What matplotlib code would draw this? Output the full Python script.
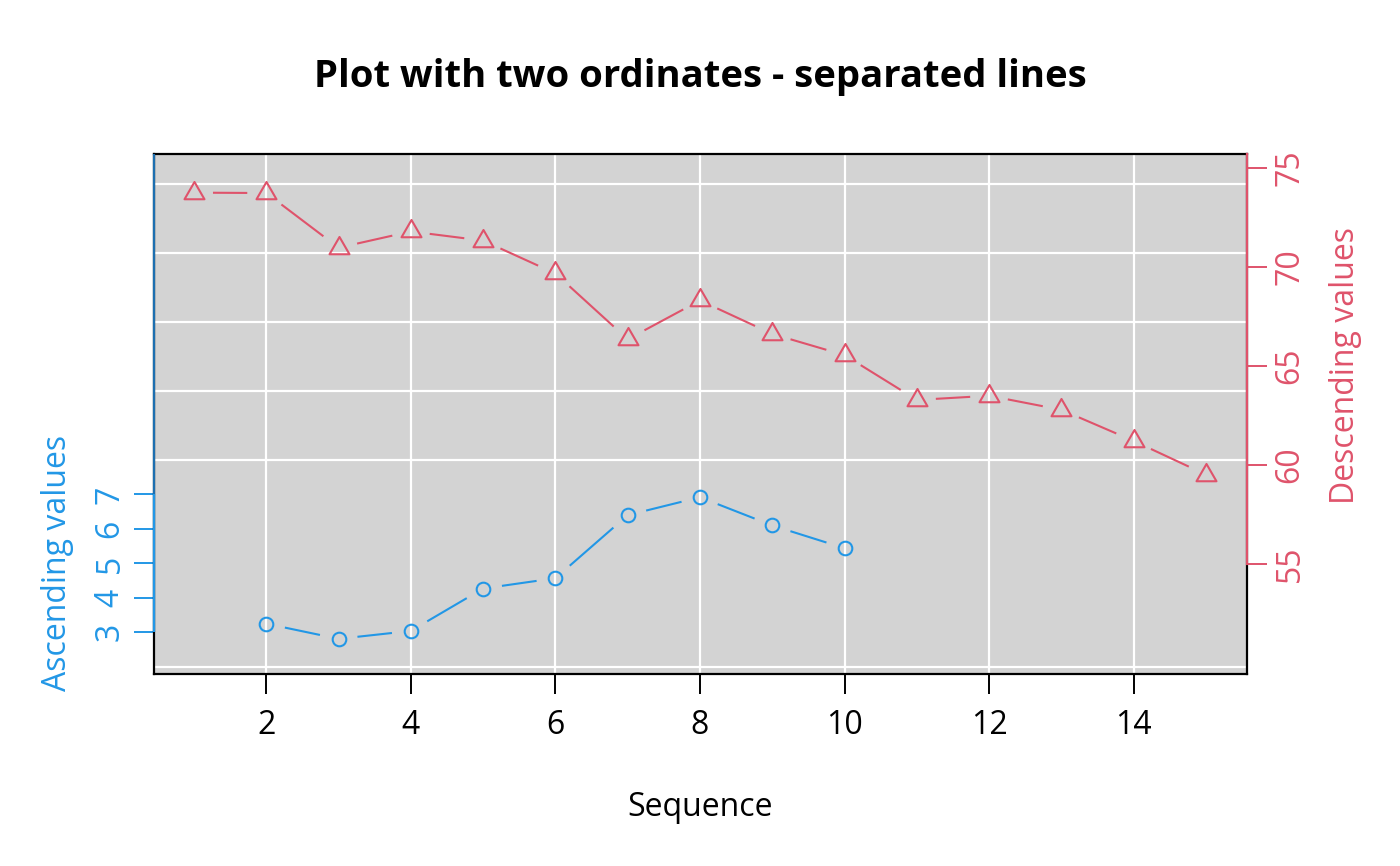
import numpy as np
import matplotlib
matplotlib.use('Agg')
import matplotlib.pyplot as plt
from matplotlib.path import Path
import matplotlib.transforms as mtransforms
from matplotlib.ticker import FixedLocator

plt.rcParams['font.family'] = ['Open Sans', 'DejaVu Sans']

# ---- data ----
asc_x = [2, 3, 4, 5, 6, 7, 8, 9, 10]
asc_y = [3.25, 2.81, 3.04, 4.27, 4.57, 6.40, 6.92, 6.10, 5.44]
desc_x = [1, 2, 3, 4, 5, 6, 7, 8, 9, 10, 11, 12, 13, 14, 15]
desc_y = [73.74, 73.72, 70.96, 71.78, 71.32, 69.66, 66.34, 68.30, 66.61,
          65.54, 63.28, 63.49, 62.78, 61.21, 59.51]
x_ticks = [2, 4, 6, 8, 10, 12, 14]
left_ticks = [3, 4, 5, 6, 7]
right_ticks = [55, 60, 65, 70, 75]
left_grid = [2, 4, 6, 8, 10, 12, 14, 16]
x_lim = (0.44, 15.56)
left_lim = (1.79, 16.88)
right_lim = (49.45, 75.69)

title = "Plot with two ordinates - separated lines"
xlabel = "Sequence"
left_label = "Ascending values"
right_label = "Descending values"

BLUE = '#2297E6'
RED = '#DF536B'
W, H = 1400, 866
FS = 23

fig = plt.figure(figsize=(W / 100, H / 100), dpi=100)
ax = fig.add_axes([153.5 / W, 1 - 674 / H, (1246.5 - 153.5) / W, (674 - 154) / H])
ax.set_facecolor('#D3D3D3')
ax.set_xlim(*x_lim)
ax.set_ylim(*left_lim)
ax2 = ax.twinx()
ax2.set_ylim(*right_lim)
ax2.patch.set_visible(False)

# grid
ax.set_axisbelow(True)
ax.set_xticks(x_ticks)
ax.set_yticks(left_ticks)
ax.yaxis.set_minor_locator(FixedLocator(left_grid))
ax.grid(which='minor', axis='y', color='white', lw=1.6)
ax.grid(which='major', axis='x', color='white', lw=1.6)
ax.tick_params(axis='y', which='minor', length=0)

for s in ax.spines.values():
    s.set_color('black')
    s.set_linewidth(1.6)
for s in ax2.spines.values():
    s.set_visible(False)
ax2.spines['right'].set_visible(True)
ax2.spines['right'].set_color(RED)
ax2.spines['right'].set_linewidth(1.6)
ax2.spines['right'].set_bounds(right_ticks[0], right_lim[1])

blend = mtransforms.blended_transform_factory(ax.transAxes, ax.transData)
ax.plot([0, 0], [left_ticks[0], left_lim[1]], transform=blend, color='#1d6fb0',
        lw=1.6, clip_on=False, zorder=5, solid_capstyle='butt')
ax.plot([0, 0], [left_ticks[0], left_ticks[-1]], transform=blend, color=BLUE,
        lw=1.6, clip_on=False, zorder=5, solid_capstyle='butt')

# ticks
ax.tick_params(axis='x', direction='out', length=14.4, width=1.4, colors='black',
               labelsize=FS, pad=11)
ax.tick_params(axis='y', which='major', direction='out', length=14.4, width=1.4,
               color=BLUE, labelcolor=BLUE, labelsize=FS, pad=5, labelrotation=90)
for lab in ax.get_yticklabels():
    lab.set_va('center')
ax.set_xticklabels([str(v) for v in x_ticks])
ax.set_yticklabels([str(v) for v in left_ticks])
ax2.set_yticks(right_ticks)
ax2.set_yticklabels([str(v) for v in right_ticks])
ax2.tick_params(axis='y', direction='out', length=14.4, width=1.4, color=RED,
                labelcolor=RED, labelsize=FS, pad=5, labelrotation=90)
for lab in ax2.get_yticklabels():
    lab.set_va('center')

# series with gaps like R type="b"
def gapped(a, xs, ys, gap, **kw):
    T = a.transData
    P = T.transform(np.column_stack([xs, ys]))
    inv = T.inverted()
    for p, q in zip(P[:-1], P[1:]):
        d = q - p
        L = np.hypot(*d)
        if L <= 2 * gap:
            continue
        u = d / L
        seg = inv.transform(np.vstack([p + u * gap, q - u * gap]))
        a.plot(seg[:, 0], seg[:, 1], **kw)

tri = Path([(0, 1), (0.866, -0.5), (-0.866, -0.5), (0, 1)],
           [Path.MOVETO, Path.LINETO, Path.LINETO, Path.CLOSEPOLY])

gapped(ax, asc_x, asc_y, 19, color=BLUE, lw=1.5, solid_capstyle='butt')
ax.plot(asc_x, asc_y, ls='none', marker='o', ms=9.8, mfc='none', mec=BLUE, mew=1.5)
gapped(ax2, desc_x, desc_y, 19, color=RED, lw=1.5, solid_capstyle='butt')
ax2.plot(desc_x, desc_y, ls='none', marker=tri, ms=16.6, mfc='none', mec=RED, mew=1.5)

# labels
fig.text(700 / W, 1 - 77 / H, title, ha='center', va='center', fontsize=27.5,
         fontweight='bold')
fig.text(700 / W, 1 - 808 / H, xlabel, ha='center', va='center', fontsize=FS)
yl = ax.transData.transform((1, 5))[1]
fig.text(57.5 / W, yl / H, left_label, ha='center', va='center', rotation=90,
         fontsize=FS, color=BLUE)
yr = ax2.transData.transform((1, 65))[1]
fig.text(1346 / W, yr / H, right_label, ha='center', va='center', rotation=90,
         fontsize=FS, color=RED)

fig.savefig('out.png', dpi=100)
